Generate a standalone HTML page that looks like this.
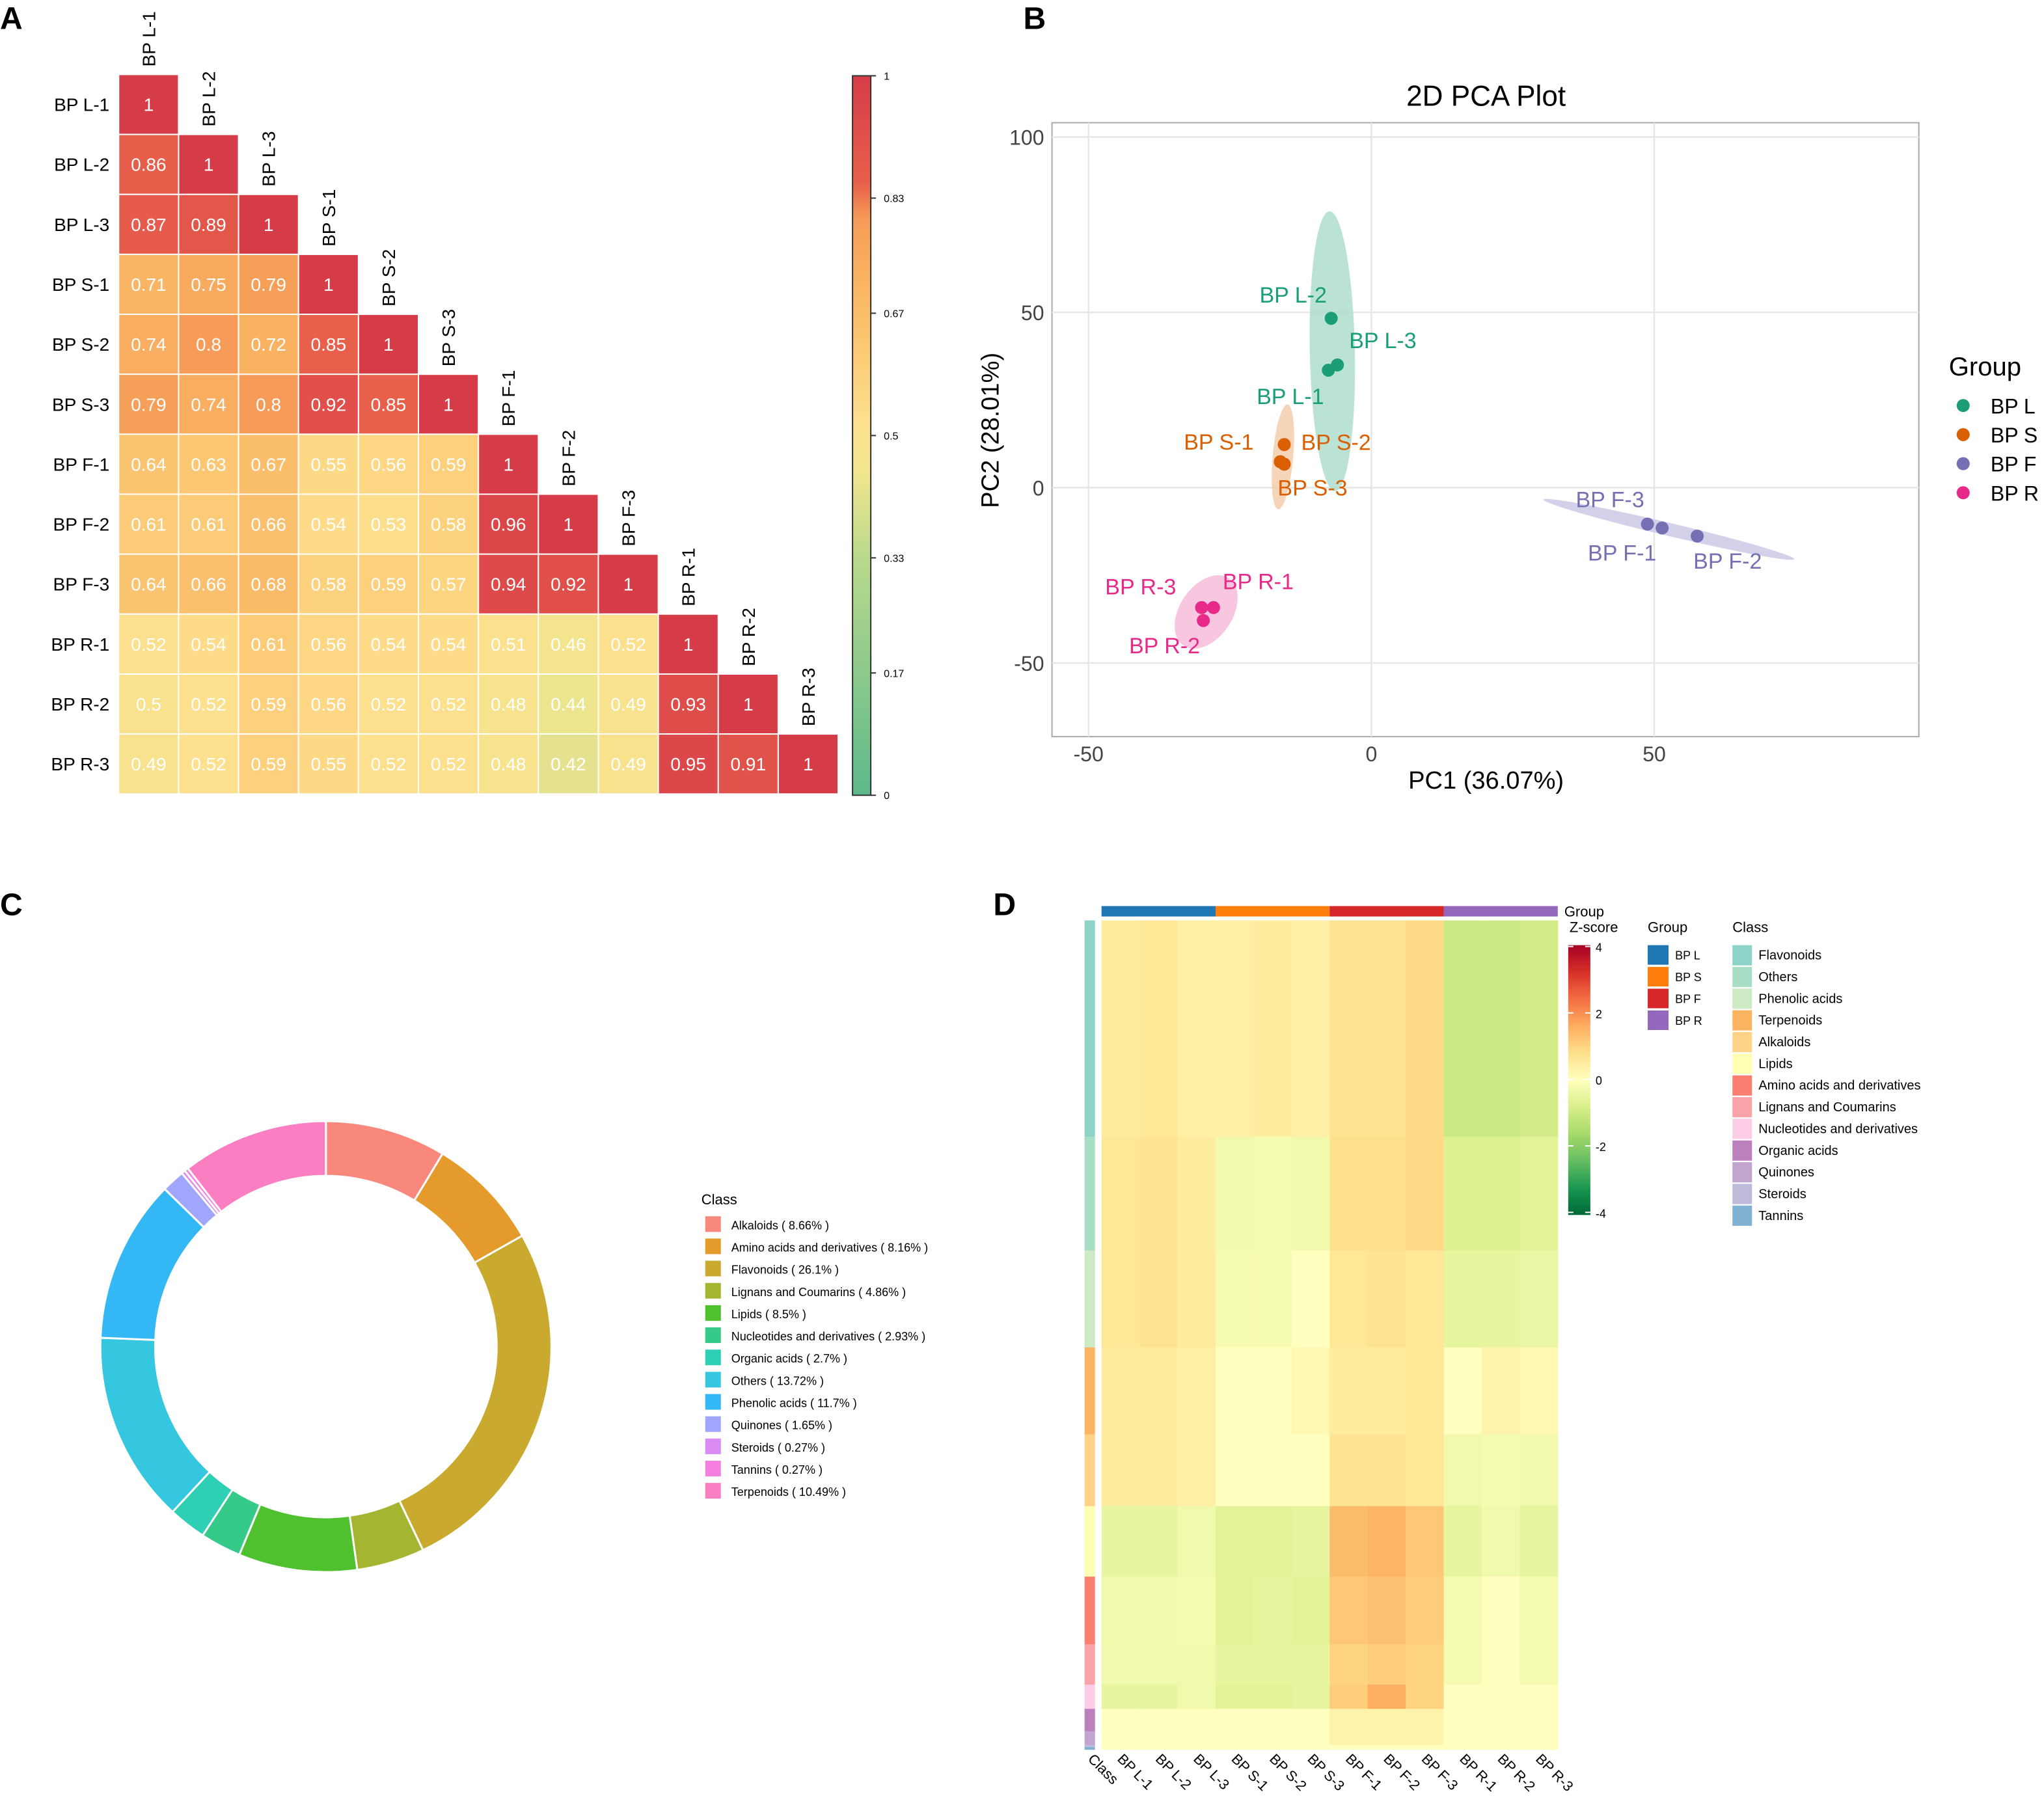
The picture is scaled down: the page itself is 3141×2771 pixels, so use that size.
<!DOCTYPE html>
<html><head><meta charset="utf-8"><style>
html,body{margin:0;padding:0;background:#fff}
svg{display:block;font-family:"Liberation Sans",Arial,sans-serif}
</style></head><body>
<svg id="root" width="3141" height="2771" viewBox="0 0 1568 1383" xmlns="http://www.w3.org/2000/svg">
<rect width="1568" height="1383" fill="#fff"/>
<g id="A"></g>
<g id="B"></g>
<g id="C"></g>
<g id="D"></g>
</svg>
<script>
// ---------- data ----------
const samples = ["BP L-1","BP L-2","BP L-3","BP S-1","BP S-2","BP S-3","BP F-1","BP F-2","BP F-3","BP R-1","BP R-2","BP R-3"];
const corr = [
[1],
[0.86,1],
[0.87,0.89,1],
[0.71,0.75,0.79,1],
[0.74,0.8,0.72,0.85,1],
[0.79,0.74,0.8,0.92,0.85,1],
[0.64,0.63,0.67,0.55,0.56,0.59,1],
[0.61,0.61,0.66,0.54,0.53,0.58,0.96,1],
[0.64,0.66,0.68,0.58,0.59,0.57,0.94,0.92,1],
[0.52,0.54,0.61,0.56,0.54,0.54,0.51,0.46,0.52,1],
[0.5,0.52,0.59,0.56,0.52,0.52,0.48,0.44,0.49,0.93,1],
[0.49,0.52,0.59,0.55,0.52,0.52,0.48,0.42,0.49,0.95,0.91,1]];
const corrTicks = ["1","0.83","0.67","0.5","0.33","0.17","0"];

const pcaGroups = ["BP L","BP S","BP F","BP R"];
const pcaX = [-7.6,-7.1,-6.0,-15.4,-15.4,-16.1,51.4,57.6,48.8,-27.9,-29.7,-30.0];
const pcaY = [33.5,48.3,35.0,12.3,6.7,7.4,-11.5,-13.8,-10.4,-34.2,-37.9,-34.2];
const pcaXTicks = [-50,0,50];
const pcaYTicks = [100,50,0,-50];

const classes = ["Alkaloids","Amino acids and derivatives","Flavonoids","Lignans and Coumarins","Lipids","Nucleotides and derivatives","Organic acids","Others","Phenolic acids","Quinones","Steroids","Tannins","Terpenoids"];
const classPct = [8.66,8.16,26.1,4.86,8.5,2.93,2.7,13.72,11.7,1.65,0.27,0.27,10.49];

const hmClasses = ["Flavonoids","Others","Phenolic acids","Terpenoids","Alkaloids","Lipids","Amino acids and derivatives","Lignans and Coumarins","Nucleotides and derivatives","Organic acids","Quinones","Steroids","Tannins"];
const hmPct = [26.1,13.72,11.7,10.49,8.66,8.5,8.16,4.86,2.93,2.7,1.65,0.27,0.27];
// mean z-score per class (rows) x sample (cols)
const hmZ = [
[0.5,0.6,0.4, 0.4,0.5,0.4, 0.7,0.7,0.9, -1.0,-1.0,-0.9],
[0.6,0.7,0.5, -0.3,-0.2,-0.3, 0.8,0.8,0.9, -0.7,-0.7,-0.6],
[0.6,0.7,0.5, -0.2,-0.2,0.0, 0.6,0.7,0.6, -0.5,-0.5,-0.4],
[0.5,0.5,0.4, 0.0,0.0,0.2, 0.5,0.5,0.6, 0.0,0.3,0.2],
[0.5,0.5,0.4, 0.0,0.0,0.0, 0.7,0.7,0.6, -0.3,-0.2,-0.3],
[-0.5,-0.5,-0.3, -0.6,-0.6,-0.5, 1.4,1.5,1.2, -0.5,-0.3,-0.5],
[-0.3,-0.3,-0.2, -0.6,-0.5,-0.6, 1.2,1.3,1.1, -0.2,0.0,-0.2],
[-0.3,-0.3,-0.3, -0.5,-0.5,-0.5, 1.0,1.1,1.0, -0.2,0.0,-0.2],
[-0.5,-0.5,-0.3, -0.6,-0.6,-0.5, 1.1,1.6,1.0, 0.0,0.0,0.0],
[0.0,0.0,0.0, 0.0,0.0,0.0, 0.3,0.3,0.3, 0.0,0.0,0.0],
[0.0,0.0,0.0, 0.0,0.0,0.0, 0.3,0.3,0.3, 0.0,0.0,0.0],
[0.0,0.0,0.0, 0.0,0.0,0.0, 0.0,0.0,0.0, 0.0,0.0,0.0],
[0.0,0.0,0.0, 0.0,0.0,0.0, 0.0,0.0,0.0, 0.0,0.0,0.0]];
const zTicks = [4,2,0,-2,-4];

// ---------- helpers ----------
const NS="http://www.w3.org/2000/svg";
function mk(parent,tag,attrs,txt){const e=document.createElementNS(NS,tag);for(const k in attrs)e.setAttribute(k,attrs[k]);if(txt!==undefined)e.textContent=txt;parent.appendChild(e);return e;}
function hex2rgb(h){return [parseInt(h.slice(1,3),16),parseInt(h.slice(3,5),16),parseInt(h.slice(5,7),16)];}
function interp(stops,v){
  if(v<=stops[0][0])return stops[0][1];
  for(let i=1;i<stops.length;i++){if(v<=stops[i][0]){const t=(v-stops[i-1][0])/(stops[i][0]-stops[i-1][0]);const a=hex2rgb(stops[i-1][1]),b=hex2rgb(stops[i][1]);return `rgb(${a.map((x,k)=>Math.round(x+(b[k]-x)*t)).join(',')})`;}}
  return stops[stops.length-1][1];}

// ---------- Panel A ----------
const A=document.getElementById('A');
const corrStops=[[0,'#5cb98a'],[0.33,'#b9da8c'],[0.45,'#f2e58e'],[0.52,'#fde08d'],[0.62,'#fcc974'],[0.72,'#f9b262'],[0.8,'#f69c58'],[0.85,'#e8604b'],[1,'#d63c48']];
let t=mk(A,'text',{x:0,y:22,'font-size':24,'font-weight':'bold'},'A');

const cx0=91,cy0=57,cs=46;
corr.forEach((row,i)=>{
  const rl=mk(A,'text',{x:84,y:cy0+cs*i+cs/2+5,'font-size':14,'text-anchor':'end'},samples[i]);
  
  row.forEach((v,j)=>{
    const r=mk(A,'rect',{x:cx0+cs*j,y:cy0+cs*i,width:cs,height:cs,fill:interp(corrStops,v),stroke:'#fff','stroke-width':1});
    
    const tx=mk(A,'text',{x:cx0+cs*j+cs/2,y:cy0+cs*i+cs/2+5,'font-size':14,fill:'#fff','text-anchor':'middle'},String(v));
    
  });
  const cxl=cx0+cs*i+cs/2+5, cyl=cy0+cs*i-6;
  const cl=mk(A,'text',{x:cxl,y:cyl,'font-size':14,transform:`rotate(-90 ${cxl} ${cyl})`},samples[i]);
  
});
const defs=mk(document.getElementById('root'),'defs',{});
const g1=mk(defs,'linearGradient',{id:'cbA',x1:0,y1:1,x2:0,y2:0});
corrStops.forEach(s=>mk(g1,'stop',{offset:s[0],'stop-color':s[1]}));
const cb=mk(A,'rect',{x:654,y:58,width:14,height:552,fill:'url(#cbA)',stroke:'#333','stroke-width':1});

corrTicks.forEach((lab,k)=>{
  const y=58+552*(1-parseFloat(lab));
  mk(A,'line',{x1:668,x2:672,y1:y,y2:y,stroke:'#333'});
  const tl=mk(A,'text',{x:678,y:y+3,'font-size':8},lab);
  
});

// ---------- Panel B ----------
const B=document.getElementById('B');
t=mk(B,'text',{x:785,y:22,'font-size':24,'font-weight':'bold'},'B');

const px=v=>1052+v*4.34, py=v=>374-v*2.69;
const bx0=807,bx1=1472,by0=94,by1=565;
mk(B,'rect',{x:bx0,y:by0,width:bx1-bx0,height:by1-by0,fill:'#fff',stroke:'#aaa','stroke-width':1});
pcaXTicks.forEach(v=>{mk(B,'line',{x1:px(v),x2:px(v),y1:by0,y2:by1,stroke:'#e6e6e6','stroke-width':1.2});
  const l=mk(B,'text',{x:px(v),y:584,'font-size':16,'text-anchor':'middle',fill:'#444'},String(v));
  });
pcaYTicks.forEach(v=>{mk(B,'line',{x1:bx0,x2:bx1,y1:py(v),y2:py(v),stroke:'#e6e6e6','stroke-width':1.2});
  const l=mk(B,'text',{x:801,y:py(v)+6,'font-size':16,'text-anchor':'end',fill:'#444'},String(v));
  });
t=mk(B,'text',{x:1140,y:81,'font-size':22,'text-anchor':'middle'},'2D PCA Plot');
t=mk(B,'text',{x:1140,y:605,'font-size':19,'text-anchor':'middle'},'PC1 (36.07%)');
t=mk(B,'text',{x:766,y:330,'font-size':19,'text-anchor':'middle',transform:'rotate(-90 766 330)'},'PC2 (28.01%)');
const gcol=['#1b9e77','#d95f02','#7570b3','#e7298a'];
const efill=['#a9dccb','#f4c9a6','#c7c5e4','#f6b8d6'];
for(let g=0;g<4;g++){
  const xs=pcaX.slice(g*3,g*3+3).map(px), ys=pcaY.slice(g*3,g*3+3).map(py);
  const mx=xs.reduce((a,b)=>a+b)/3, my=ys.reduce((a,b)=>a+b)/3;
  let sxx=0,syy=0,sxy=0;for(let k=0;k<3;k++){const dx=xs[k]-mx,dy=ys[k]-my;sxx+=dx*dx;syy+=dy*dy;sxy+=dx*dy;}
  sxx/=2;syy/=2;sxy/=2;
  const tr=sxx+syy,det=sxx*syy-sxy*sxy,l1=tr/2+Math.sqrt(tr*tr/4-det),l2=Math.max(tr/2-Math.sqrt(tr*tr/4-det),0.5);
  const ang=Math.atan2(l1-sxx,sxy||1e-9)*180/Math.PI;
  const k=4.9;
  const e=mk(B,'ellipse',{cx:mx,cy:my,rx:Math.max(Math.sqrt(l1)*k,12),ry:Math.max(Math.sqrt(l2)*k,5),fill:efill[g],opacity:0.8,transform:`rotate(${Math.abs(sxy)<1e-6?(sxx>syy?0:90):ang} ${mx} ${my})`});
  
}
pcaX.forEach((v,i)=>{const c=mk(B,'circle',{cx:px(v),cy:py(pcaY[i]),r:5,fill:gcol[Math.floor(i/3)]});
  });
const lblOff=[[-55,26],[-55,-12],[9,-13],[-77,4],[13,-11],[-2,26],[-57,25],[-3,25],[-55,-13],[7,-14],[-57,25],[-74,-10]];
pcaX.forEach((v,i)=>{const l=mk(B,'text',{x:px(v)+lblOff[i][0],y:py(pcaY[i])+lblOff[i][1],'font-size':17,fill:gcol[Math.floor(i/3)]},samples[i]);
  });
t=mk(B,'text',{x:1495,y:288,'font-size':20},'Group');
pcaGroups.forEach((g,i)=>{const y=311+22.3*i;mk(B,'circle',{cx:1506,cy:y,r:5,fill:gcol[i]});
  const l=mk(B,'text',{x:1527,y:y+6,'font-size':16},g);});

// ---------- Panel C ----------
const C=document.getElementById('C');
t=mk(C,'text',{x:0,y:702,'font-size':24,'font-weight':'bold'},'C');
const ccol=['#f8877c','#e59a2c','#c9aa2e','#a5b531','#4fc02e','#35c98a','#2fcfb5','#35c6e0','#33b8f5','#a0a6fb','#d98af3','#f57fe0','#fb7ec2'];
const dcx=250,dcy=1033,R=173,r=131;
const tot=classPct.reduce((a,b)=>a+b);
let acc=0;
classPct.forEach((p,i)=>{
  const a0=acc/tot*2*Math.PI, a1=(acc+p)/tot*2*Math.PI; acc+=p;
  const pt=(rad,a)=>[dcx+rad*Math.sin(a),dcy-rad*Math.cos(a)];
  const lg=(a1-a0)>Math.PI?1:0;
  const [x0,y0]=pt(R,a0),[x1,y1]=pt(R,a1),[x2,y2]=pt(r,a1),[x3,y3]=pt(r,a0);
  const s=mk(C,'path',{d:`M${x0},${y0}A${R},${R} 0 ${lg} 1 ${x1},${y1}L${x2},${y2}A${r},${r} 0 ${lg} 0 ${x3},${y3}Z`,fill:ccol[i],stroke:'#fff','stroke-width':1.5});
  
});
t=mk(C,'text',{x:538,y:924,'font-size':11},'Class');
classes.forEach((c,i)=>{const y=933+17.05*i;mk(C,'rect',{x:541,y:y,width:12,height:12,fill:ccol[i]});
  const l=mk(C,'text',{x:561,y:y+10,'font-size':9},`${c} ( ${classPct[i]}% )`);});

// ---------- Panel D ----------
const D=document.getElementById('D');
t=mk(D,'text',{x:762,y:702,'font-size':24,'font-weight':'bold'},'D');
const hx0=845,hx1=1195,hy0=706,hy1=1342,cw=(hx1-hx0)/12;
const zStops=[[-4,'#006837'],[-3.2,'#1a9850'],[-2.4,'#66bd63'],[-1.6,'#a6d96a'],[-0.8,'#d9ef8b'],[0,'#ffffbf'],[0.8,'#fee08b'],[1.6,'#fdae61'],[2.4,'#f46d43'],[3.2,'#d73027'],[4,'#a50026']];
const gcolD=['#1f78b4','#ff7f0e','#d62728','#9467bd'];
const clsCol=['#8dd3c7','#a8dec6','#ccebc5','#fdb462','#fdd38a','#ffffb3','#fb8072','#f9a3a8','#fccde5','#bc80bd','#c2a5cf','#bebada','#80b1d3'];
for(let g=0;g<4;g++){const r2=mk(D,'rect',{x:hx0+g*3*cw,y:695,width:3*cw,height:8,fill:gcolD[g]});}
t=mk(D,'text',{x:1200,y:703,'font-size':11},'Group');
const hpTot=hmPct.reduce((a,b)=>a+b);
let yy=hy0;
hmPct.forEach((p,i)=>{
  const h=p/hpTot*(hy1-hy0);
  const cb2=mk(D,'rect',{x:832,y:yy,width:8,height:h+0.3,fill:clsCol[i]});
  hmZ[i].forEach((z,j)=>{const c=mk(D,'rect',{x:hx0+j*cw,y:yy,width:cw+0.3,height:h+0.3,fill:interp(zStops,z)});
    });
  yy+=h;
});
const g2=mk(defs,'linearGradient',{id:'cbD',x1:0,y1:1,x2:0,y2:0});
zStops.forEach(s=>mk(g2,'stop',{offset:(s[0]+4)/8,'stop-color':s[1]}));
const zb=mk(D,'rect',{x:1203,y:725,width:17,height:207,fill:'url(#cbD)'});
t=mk(D,'text',{x:1204,y:715,'font-size':11},'Z-score');
zTicks.forEach(v=>{const y=828-v*25.5;mk(D,'line',{x1:1203,x2:1207,y1:y,y2:y,stroke:'#fff'});mk(D,'line',{x1:1216,x2:1220,y1:y,y2:y,stroke:'#fff'});
  const l=mk(D,'text',{x:1224,y:y+4,'font-size':9},String(v));});
t=mk(D,'text',{x:1264,y:715,'font-size':11},'Group');
pcaGroups.forEach((g,i)=>{const y=725+16.7*i;mk(D,'rect',{x:1264,y:y,width:16,height:15,fill:gcolD[i]});
  const l=mk(D,'text',{x:1285,y:y+11,'font-size':9},g);});
t=mk(D,'text',{x:1329,y:715,'font-size':11},'Class');
hmClasses.forEach((c,i)=>{const y=725+16.65*i;mk(D,'rect',{x:1329,y:y,width:15,height:15.5,fill:clsCol[i]});
  const l=mk(D,'text',{x:1349,y:y+11,'font-size':10},c);});
const bl=['Class'].concat(samples);
bl.forEach((s,i)=>{const x=i===0?834:hx0+(i-0.5)*cw-3, y=1350;
  const l=mk(D,'text',{x:x,y:y,'font-size':11,transform:`rotate(45 ${x} ${y})`},s);});
</script>
</body></html>
